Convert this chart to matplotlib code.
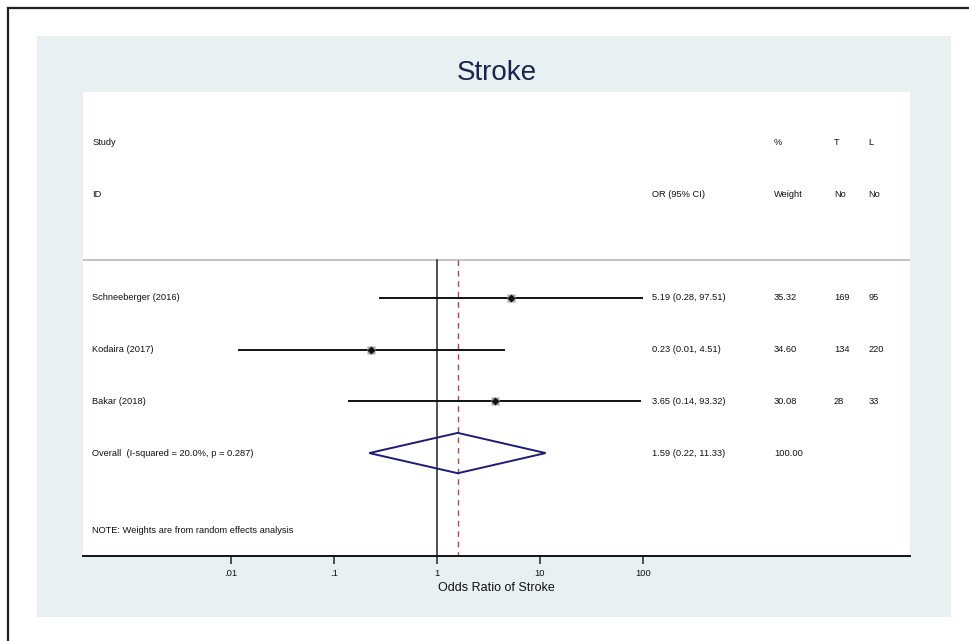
import numpy as np
import matplotlib
matplotlib.use("Agg")
from matplotlib import pyplot as plt
from matplotlib.patches import Rectangle, Polygon
from matplotlib.lines import Line2D
import matplotlib.transforms as mtransforms

plt.rcParams['font.family'] = ['Liberation Sans', 'DejaVu Sans']

# data
studies = ["Schneeberger (2016)", "Kodaira (2017)", "Bakar (2018)"]
odds = [5.19, 0.23, 3.65]
lower = [0.28, 0.012, 0.14]
upper = [97.51, 4.51, 93.32]
weights = [35.32, 34.60, 30.08]
t_no = [169, 134, 28]
l_no = [95, 220, 33]
overall_or = 1.59
overall_lo = 0.22
overall_hi = 11.33
overall_label = "Overall  (I-squared = 20.0%, p = 0.287)"
ticks = [0.01, 0.1, 1, 10, 100]
tick_labels = [".01", ".1", "1", "10", "100"]

W, H = 969, 641
fig = plt.figure(figsize=(W / 100, H / 100), dpi=100)

def fx(px):
    return px / W

def fy(py):
    return 1 - py / H

# outer frame (only left and top edges visible)
fig.add_artist(Line2D([fx(8), fx(8)], [0, fy(8)], color='#222222', lw=1.6))
fig.add_artist(Line2D([fx(8), 1], [fy(8), fy(8)], color='#222222', lw=1.6))

# light graph region
fig.add_artist(Rectangle((fx(37), fy(617)), fx(951) - fx(37), fy(36) - fy(617),
                         facecolor='#e8f0f2', edgecolor='none', zorder=0))

ax = fig.add_axes([fx(83), fy(556), fx(910) - fx(83), fy(92) - fy(556)])
ax.set_facecolor('white')
ax.set_xscale('log')
ax.set_xlim(10 ** ((83 - 437) / 103), 10 ** ((910 - 437) / 103))
ax.set_ylim(4.99, -3.98)
for s in ['top', 'left', 'right']:
    ax.spines[s].set_visible(False)
ax.spines['bottom'].set_linewidth(1.4)
ax.spines['bottom'].set_color('#111111')
ax.set_yticks([])
ax.set_xticks(ticks)
ax.set_xticklabels(tick_labels, fontsize=6.7, color='#111111')
ax.minorticks_off()
ax.tick_params(axis='x', length=6, width=1.1, pad=3, color='#222222')
ax.set_xlabel("Odds Ratio of Stroke", fontsize=9, labelpad=3, color='#111111')

fig.text(fx(497), fy(73), "Stroke", fontsize=20, color='#1a2550',
         ha='center', va='center')

# header separator
ax.axhline(-0.735, color='#c4c4c4', lw=1.5, zorder=1)

# null line and overall effect line
ax.plot([1, 1], [-0.735, 4.99], color='#222222', lw=1.1, zorder=2)
ax.plot([overall_or, overall_or], [-0.735, 4.99], color='#b5444a', lw=1.0,
        ls=(0, (4, 3.5)), zorder=2)

tr = mtransforms.blended_transform_factory(ax.transAxes, ax.transData)
fs = 6.7
tc = '#111111'
cols = {'label': 0.011, 'or': 0.688, 'w': 0.8356, 't': 0.908, 'l': 0.950}

def put(x, y, s):
    ax.text(x, y, s, transform=tr, fontsize=fs, va='center', color=tc)

put(cols['label'], -3, "Study")
put(cols['label'], -2, "ID")
put(cols['or'], -2, "OR (95% CI)")
put(cols['w'], -3, "%")
put(cols['w'], -2, "Weight")
put(cols['t'], -3, "T")
put(cols['t'], -2, "No")
put(cols['l'], -3, "L")
put(cols['l'], -2, "No")

for i, name in enumerate(studies):
    ax.plot([lower[i], upper[i]], [i, i], color='#111111', lw=1.4, zorder=3)
    ax.plot(odds[i], i, marker='s', ms=6, color='#a8a8a8', mec='none', zorder=4)
    ax.plot(odds[i], i, marker='D', ms=4.2, color='#111111', mec='none', zorder=5)
    put(cols['label'], i, name)
    put(cols['or'], i, f"{odds[i]:.2f} ({lower[i]:.2f}, {upper[i]:.2f})")
    put(cols['w'], i, f"{weights[i]:.2f}")
    put(cols['t'], i, str(t_no[i]))
    put(cols['l'], i, str(l_no[i]))

# overall diamond
yo = len(studies)
diamond = Polygon([[overall_lo, yo], [overall_or, yo - 0.39], [overall_hi, yo],
                   [overall_or, yo + 0.39]], closed=True, fill=False,
                  edgecolor='#1c1c78', lw=1.4, zorder=4)
ax.add_patch(diamond)
put(cols['label'], yo, overall_label)
put(cols['or'], yo, f"{overall_or:.2f} ({overall_lo:.2f}, {overall_hi:.2f})")
put(cols['w'], yo, f"{sum(weights):.2f}")

put(cols['label'], 4.5, "NOTE: Weights are from random effects analysis")

fig.savefig("out.png", dpi=100)
